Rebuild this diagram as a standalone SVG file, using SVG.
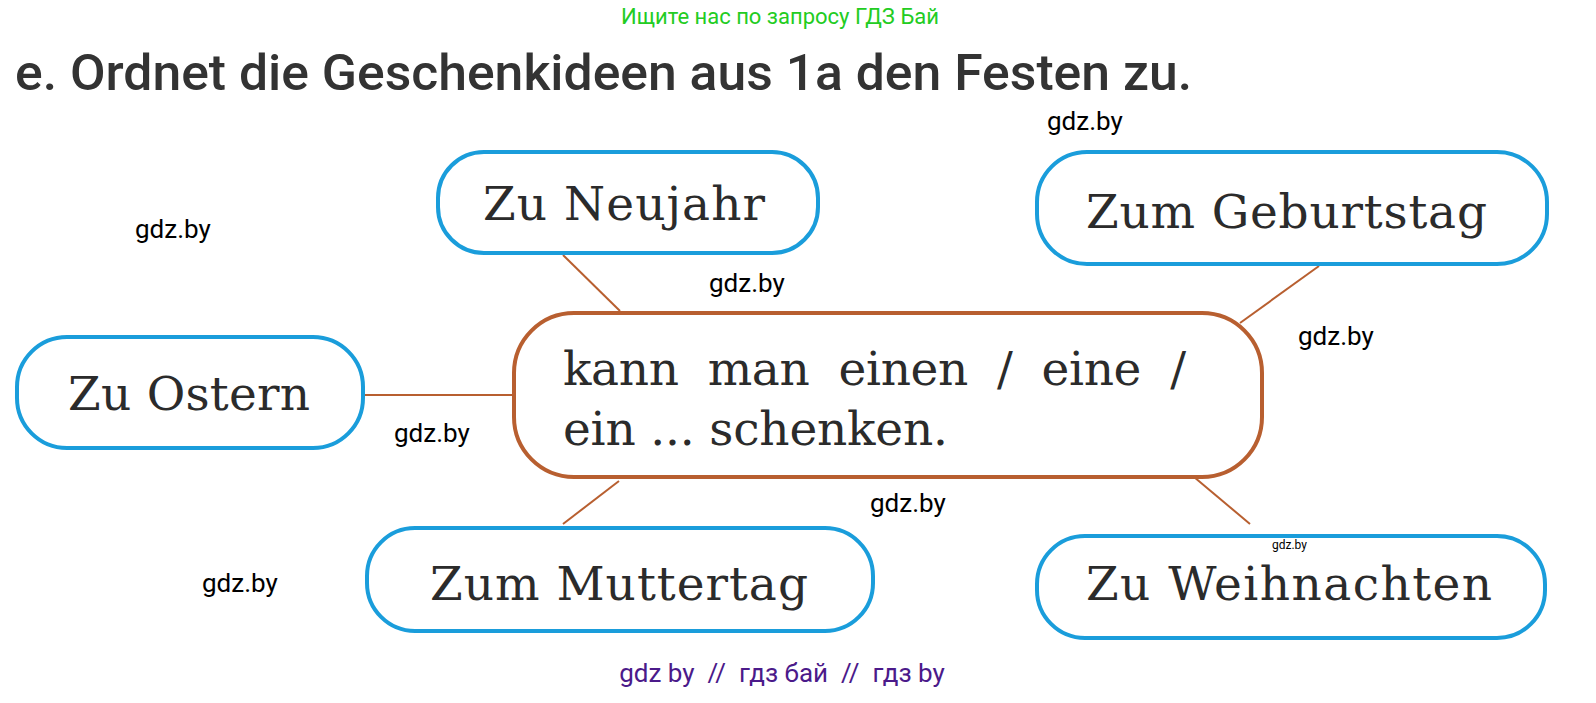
<svg xmlns="http://www.w3.org/2000/svg" width="1596" height="703" viewBox="0 0 1596 703">
<style>
.node{fill:#fff;stroke:#1a9ddb;stroke-width:4}
.center{fill:#fff;stroke:#b85f30;stroke-width:4}
.lbl{font-family:"DejaVu Serif","Liberation Serif",serif;font-size:47px;fill:#2b2b2b}
.wm{font-family:Roboto,"Liberation Sans",sans-serif;font-size:26px;fill:#000}
.wm.small{font-size:12px}
.con line{stroke:#b85f30;stroke-width:2}
</style>
<rect width="1596" height="703" fill="#fff"/>
<text x="780" y="24" text-anchor="middle" font-family="Roboto,'Liberation Sans',sans-serif" font-size="22" fill="#22cc22">Ищите нас по запросу ГДЗ Бай</text>
<text x="15" y="90" font-family="Roboto,'Liberation Sans',sans-serif" font-weight="500" font-size="50" fill="#333" textLength="1177" lengthAdjust="spacingAndGlyphs">e. Ordnet die Geschenkideen aus 1a den Festen zu.</text>
<g class="con" id="connectors">
<line x1="563" y1="255" x2="620" y2="311"/>
<line x1="1319" y1="266" x2="1240" y2="323"/>
<line x1="365" y1="395" x2="514" y2="395"/>
<line x1="563" y1="524" x2="619" y2="481"/>
<line x1="1194" y1="477" x2="1250" y2="524"/>
</g>
<g id="neujahr"><rect class="node" x="438" y="152" width="380" height="101" rx="46"/><text class="lbl" x="483" y="220" textLength="282" lengthAdjust="spacing">Zu Neujahr</text></g>
<g id="geburtstag"><rect class="node" x="1037" y="152" width="510" height="112" rx="50"/><text class="lbl" x="1086" y="228" textLength="401" lengthAdjust="spacing">Zum Geburtstag</text></g>
<g id="ostern"><rect class="node" x="17" y="337" width="346" height="111" rx="50"/><text class="lbl" x="68" y="410" textLength="242" lengthAdjust="spacing">Zu Ostern</text></g>
<g id="center"><rect class="center" x="514" y="313" width="748" height="164" rx="60"/>
<text class="lbl" x="563" y="385" textLength="623" lengthAdjust="spacing" xml:space="preserve">kann  man  einen  /  eine  /</text>
<text class="lbl" x="563" y="445" textLength="385" lengthAdjust="spacing">ein ... schenken.</text></g>
<g id="muttertag"><rect class="node" x="367" y="528" width="506" height="103" rx="48"/><text class="lbl" x="430" y="600" textLength="378" lengthAdjust="spacing">Zum Muttertag</text></g>
<g id="weihnachten"><rect class="node" x="1037" y="536" width="508" height="102" rx="48"/><text class="lbl" x="1086" y="600" textLength="406" lengthAdjust="spacing">Zu Weihnachten</text></g>
<g id="watermarks">
<text class="wm" x="135" y="238">gdz.by</text>
<text class="wm" x="1047" y="130">gdz.by</text>
<text class="wm" x="709" y="292">gdz.by</text>
<text class="wm" x="1298" y="345">gdz.by</text>
<text class="wm" x="394" y="442">gdz.by</text>
<text class="wm" x="870" y="512">gdz.by</text>
<text class="wm" x="202" y="592">gdz.by</text>
<text class="wm small" x="1272" y="549">gdz.by</text>
<text x="782" y="682" text-anchor="middle" font-family="Roboto,'Liberation Sans',sans-serif" font-size="26" fill="#4b1a8a" xml:space="preserve">gdz by  //  гдз бай  //  гдз by</text>
</g>
</svg>
